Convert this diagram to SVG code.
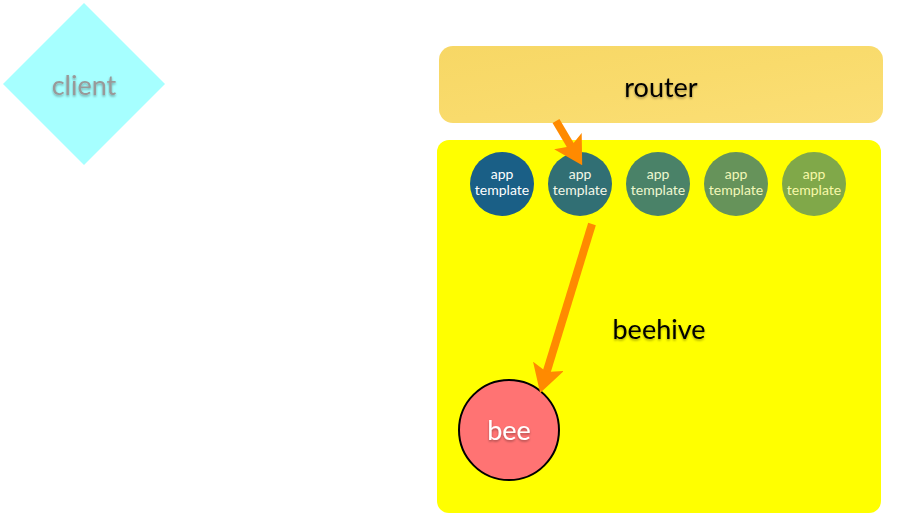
<svg xmlns="http://www.w3.org/2000/svg" width="899" height="517" viewBox="0 0 899 517">
  <defs>
    <style>
      .lbl { font-family: Lato, "Open Sans", "Liberation Sans", sans-serif; text-anchor: middle; }
      .big { font-size: 27px; }
      .small { font-size: 14px; }
      .arrow { stroke: #ff8a00; stroke-width: 8; fill: none; marker-end: url(#head); }
    </style>
    <filter id="shadow" x="-20%" y="-20%" width="140%" height="160%">
      <feDropShadow dx="0" dy="1.5" stdDeviation="1.2" flood-color="#000" flood-opacity="0.35"/>
    </filter>
    <linearGradient id="routerFill" x1="0" y1="0" x2="1" y2="1">
      <stop offset="0" stop-color="#f7d765"/>
      <stop offset="0.5" stop-color="#f9db6c"/>
      <stop offset="1" stop-color="#fbdf76"/>
    </linearGradient>
    <marker id="head" viewBox="0 0 28 32" refX="8" refY="16" markerWidth="28" markerHeight="32" markerUnits="userSpaceOnUse" orient="auto">
      <path d="M0,0 L28,16 L0,32 L6,16 z" fill="#ff8a00"/>
    </marker>
  </defs>

  <g id="client">
    <polygon points="84,3 165,84 84,165 3,84" fill="#a6ffff"/>
    <text class="lbl big" x="84" y="95" fill="#999999" filter="url(#shadow)">client</text>
  </g>

  <g id="router">
    <rect x="439" y="46" width="444" height="77" rx="14" fill="url(#routerFill)"/>
    <text class="lbl big" x="661" y="97" fill="#000" filter="url(#shadow)">router</text>
  </g>

  <g id="beehive">
    <rect x="437" y="140" width="444" height="373" rx="12" fill="#ffff00"/>
    <text class="lbl big" x="659" y="339" fill="#000" filter="url(#shadow)">beehive</text>
  </g>

  <g id="app1">
    <circle cx="502" cy="184" r="32" fill="#1a5f86"/>
    <text class="lbl small" x="502" y="179" fill="#ffffff">app</text>
    <text class="lbl small" x="502" y="195" fill="#ffffff">template</text>
  </g>
  <g id="app2">
    <circle cx="580" cy="184" r="32" fill="#316f74"/>
    <text class="lbl small" x="580" y="179" fill="#f4f8e8">app</text>
    <text class="lbl small" x="580" y="195" fill="#f4f8e8">template</text>
  </g>
  <g id="app3">
    <circle cx="658" cy="184" r="32" fill="#4a8268"/>
    <text class="lbl small" x="658" y="179" fill="#eef8d0">app</text>
    <text class="lbl small" x="658" y="195" fill="#eef8d0">template</text>
  </g>
  <g id="app4">
    <circle cx="736" cy="184" r="32" fill="#66935a"/>
    <text class="lbl small" x="736" y="179" fill="#f2f8b8">app</text>
    <text class="lbl small" x="736" y="195" fill="#f2f8b8">template</text>
  </g>
  <g id="app5">
    <circle cx="814" cy="184" r="32" fill="#80a849"/>
    <text class="lbl small" x="814" y="179" fill="#f8f8a8">app</text>
    <text class="lbl small" x="814" y="195" fill="#f8f8a8">template</text>
  </g>

  <g id="bee">
    <circle cx="509" cy="430" r="50" fill="#ff7373" stroke="#000" stroke-width="2"/>
    <text class="lbl" x="509" y="440" font-size="27" fill="#ffffff" filter="url(#shadow)">bee</text>
  </g>

  <g id="connectors">
    <line class="arrow" x1="556" y1="121" x2="572" y2="148"/>
    <line class="arrow" x1="592" y1="224" x2="546" y2="374"/>
  </g>
</svg>
